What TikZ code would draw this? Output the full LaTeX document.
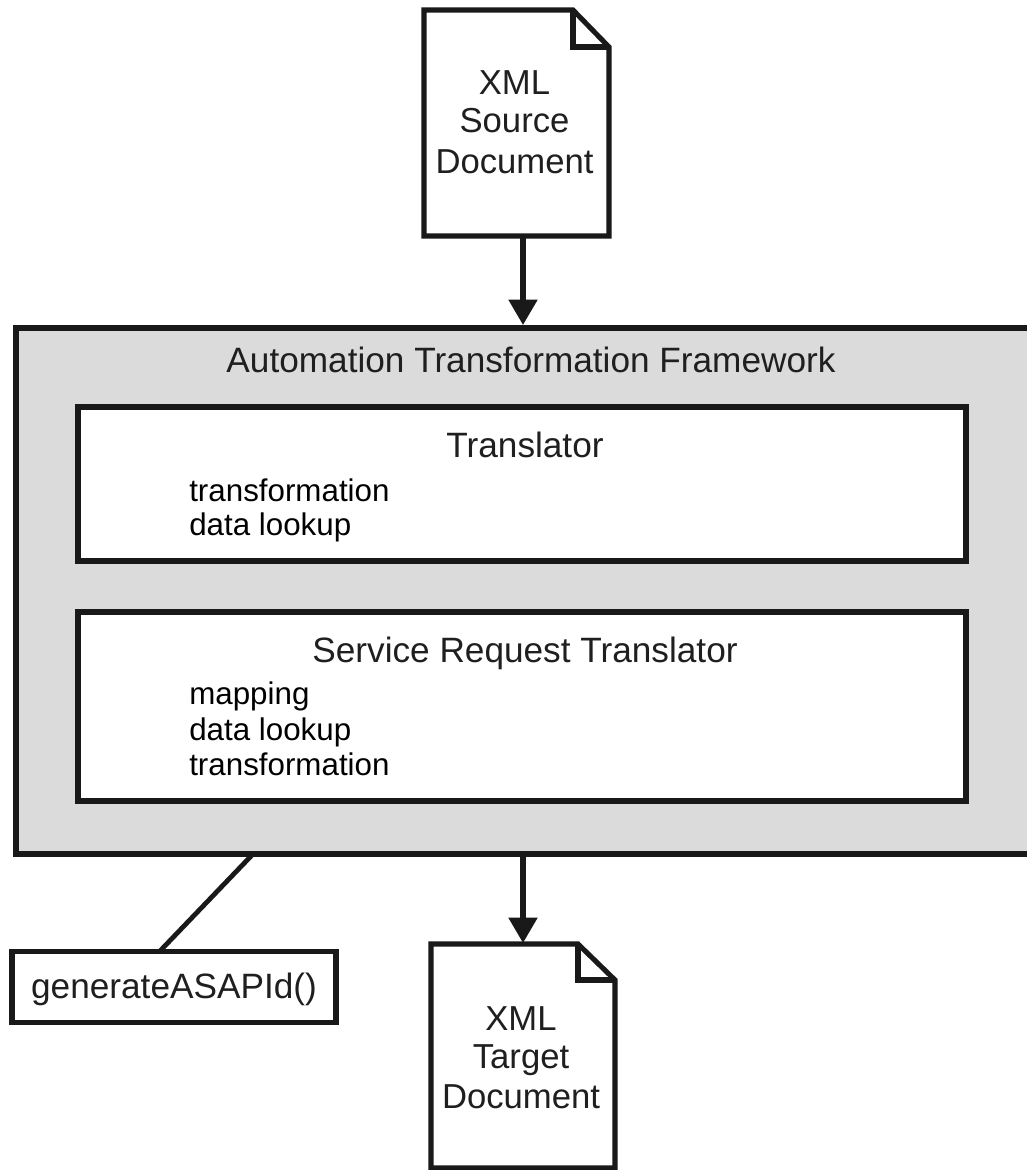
\documentclass[tikz,border=0pt]{standalone}
\usepackage{fontspec}
\setmainfont{Liberation Sans}
\usetikzlibrary{arrows.meta}
\tikzset{
 frameline/.style={draw=black!90,line width=3.8pt,line join=miter},
 arrowline/.style={draw=black!90,line width=3.8pt,-{Triangle[length=19pt,width=21pt]}},
 plainline/.style={draw=black!90,line width=3.6pt},
 title/.style={font=\fontsize{26.4}{30}\selectfont,text=black!88,inner sep=0pt,anchor=base},
 body/.style={font=\fontsize{23.5}{26}\selectfont,text=black,inner sep=0pt,anchor=base west},
 doctextb/.style={font=\fontsize{26}{30}\selectfont,text=black!88,inner sep=0pt,anchor=base},
}
\begin{document}
\begin{tikzpicture}[x=0.75pt,y=-0.75pt]
\useasboundingbox (0,0) rectangle (1026,1170);
\fill[white] (0,0) rectangle (1026,1170);
% source doc
\draw[frameline,fill=white] (424,10) -- (573,10) -- (609,47) -- (609,236) -- (424,236) -- cycle;
\draw[frameline] (573,10) -- (573,47) -- (609,47);
\node[doctextb] (src1) at (514.5,95) {XML};
\node[doctextb] (src2) at (514.5,133) {Source};
\node[doctextb] (src3) at (514.5,174) {Document};
\coordinate (srcb) at (523,236);
% framework
\path[frameline,fill=black!14] (16,328) -- (1030,328) -- (1030,854) -- (16,854) -- cycle;
\coordinate (fwt) at (523,325);
\coordinate (fwb) at (523,854);
\coordinate (fwl) at (253,854);
\node[title] (fw) at (531,372) {Automation Transformation Framework};
% translator
\draw[frameline,fill=white] (78,407) rectangle (966,561);
\node[title] (tr) at (525,457) {Translator};
\node[body] (t1) at (189,501) {transformation};
\node[body] (t2) at (189,535) {data lookup};
% SRT
\draw[frameline,fill=white] (78,612) rectangle (966,801);
\node[title] (srt) at (525,662) {Service Request Translator};
\node[body] (s1) at (189,704) {mapping};
\node[body] (s2) at (189,740) {data lookup};
\node[body] (s3) at (189,775) {transformation};
% generate
\node[draw=black!90,line width=3.8pt,fill=white,inner sep=0pt,anchor=center,font=\fontsize{26.4}{30}\selectfont,text=black!88,minimum width=243pt,minimum height=53pt,text height=20pt,text depth=3.5pt] (gen) at (174,987) {generateASAPId()};
% target doc
\draw[frameline,fill=white] (431,944) -- (578,944) -- (615,980) -- (615,1168) -- (431,1168) -- cycle;
\draw[frameline] (578,944) -- (578,980) -- (615,980);
\node[doctextb] (tgt1) at (521,1030) {XML};
\node[doctextb] (tgt2) at (521,1068) {Target};
\node[doctextb] (tgt3) at (521,1108) {Document};
\coordinate (tgtt) at (523,943);
% connectors
\draw[arrowline] (srcb) -- (fwt);
\draw[arrowline] (fwb) -- (tgtt);
\coordinate (genl) at (160,951);
\draw[plainline] (fwl) -- (genl);
\end{tikzpicture}
\end{document}
